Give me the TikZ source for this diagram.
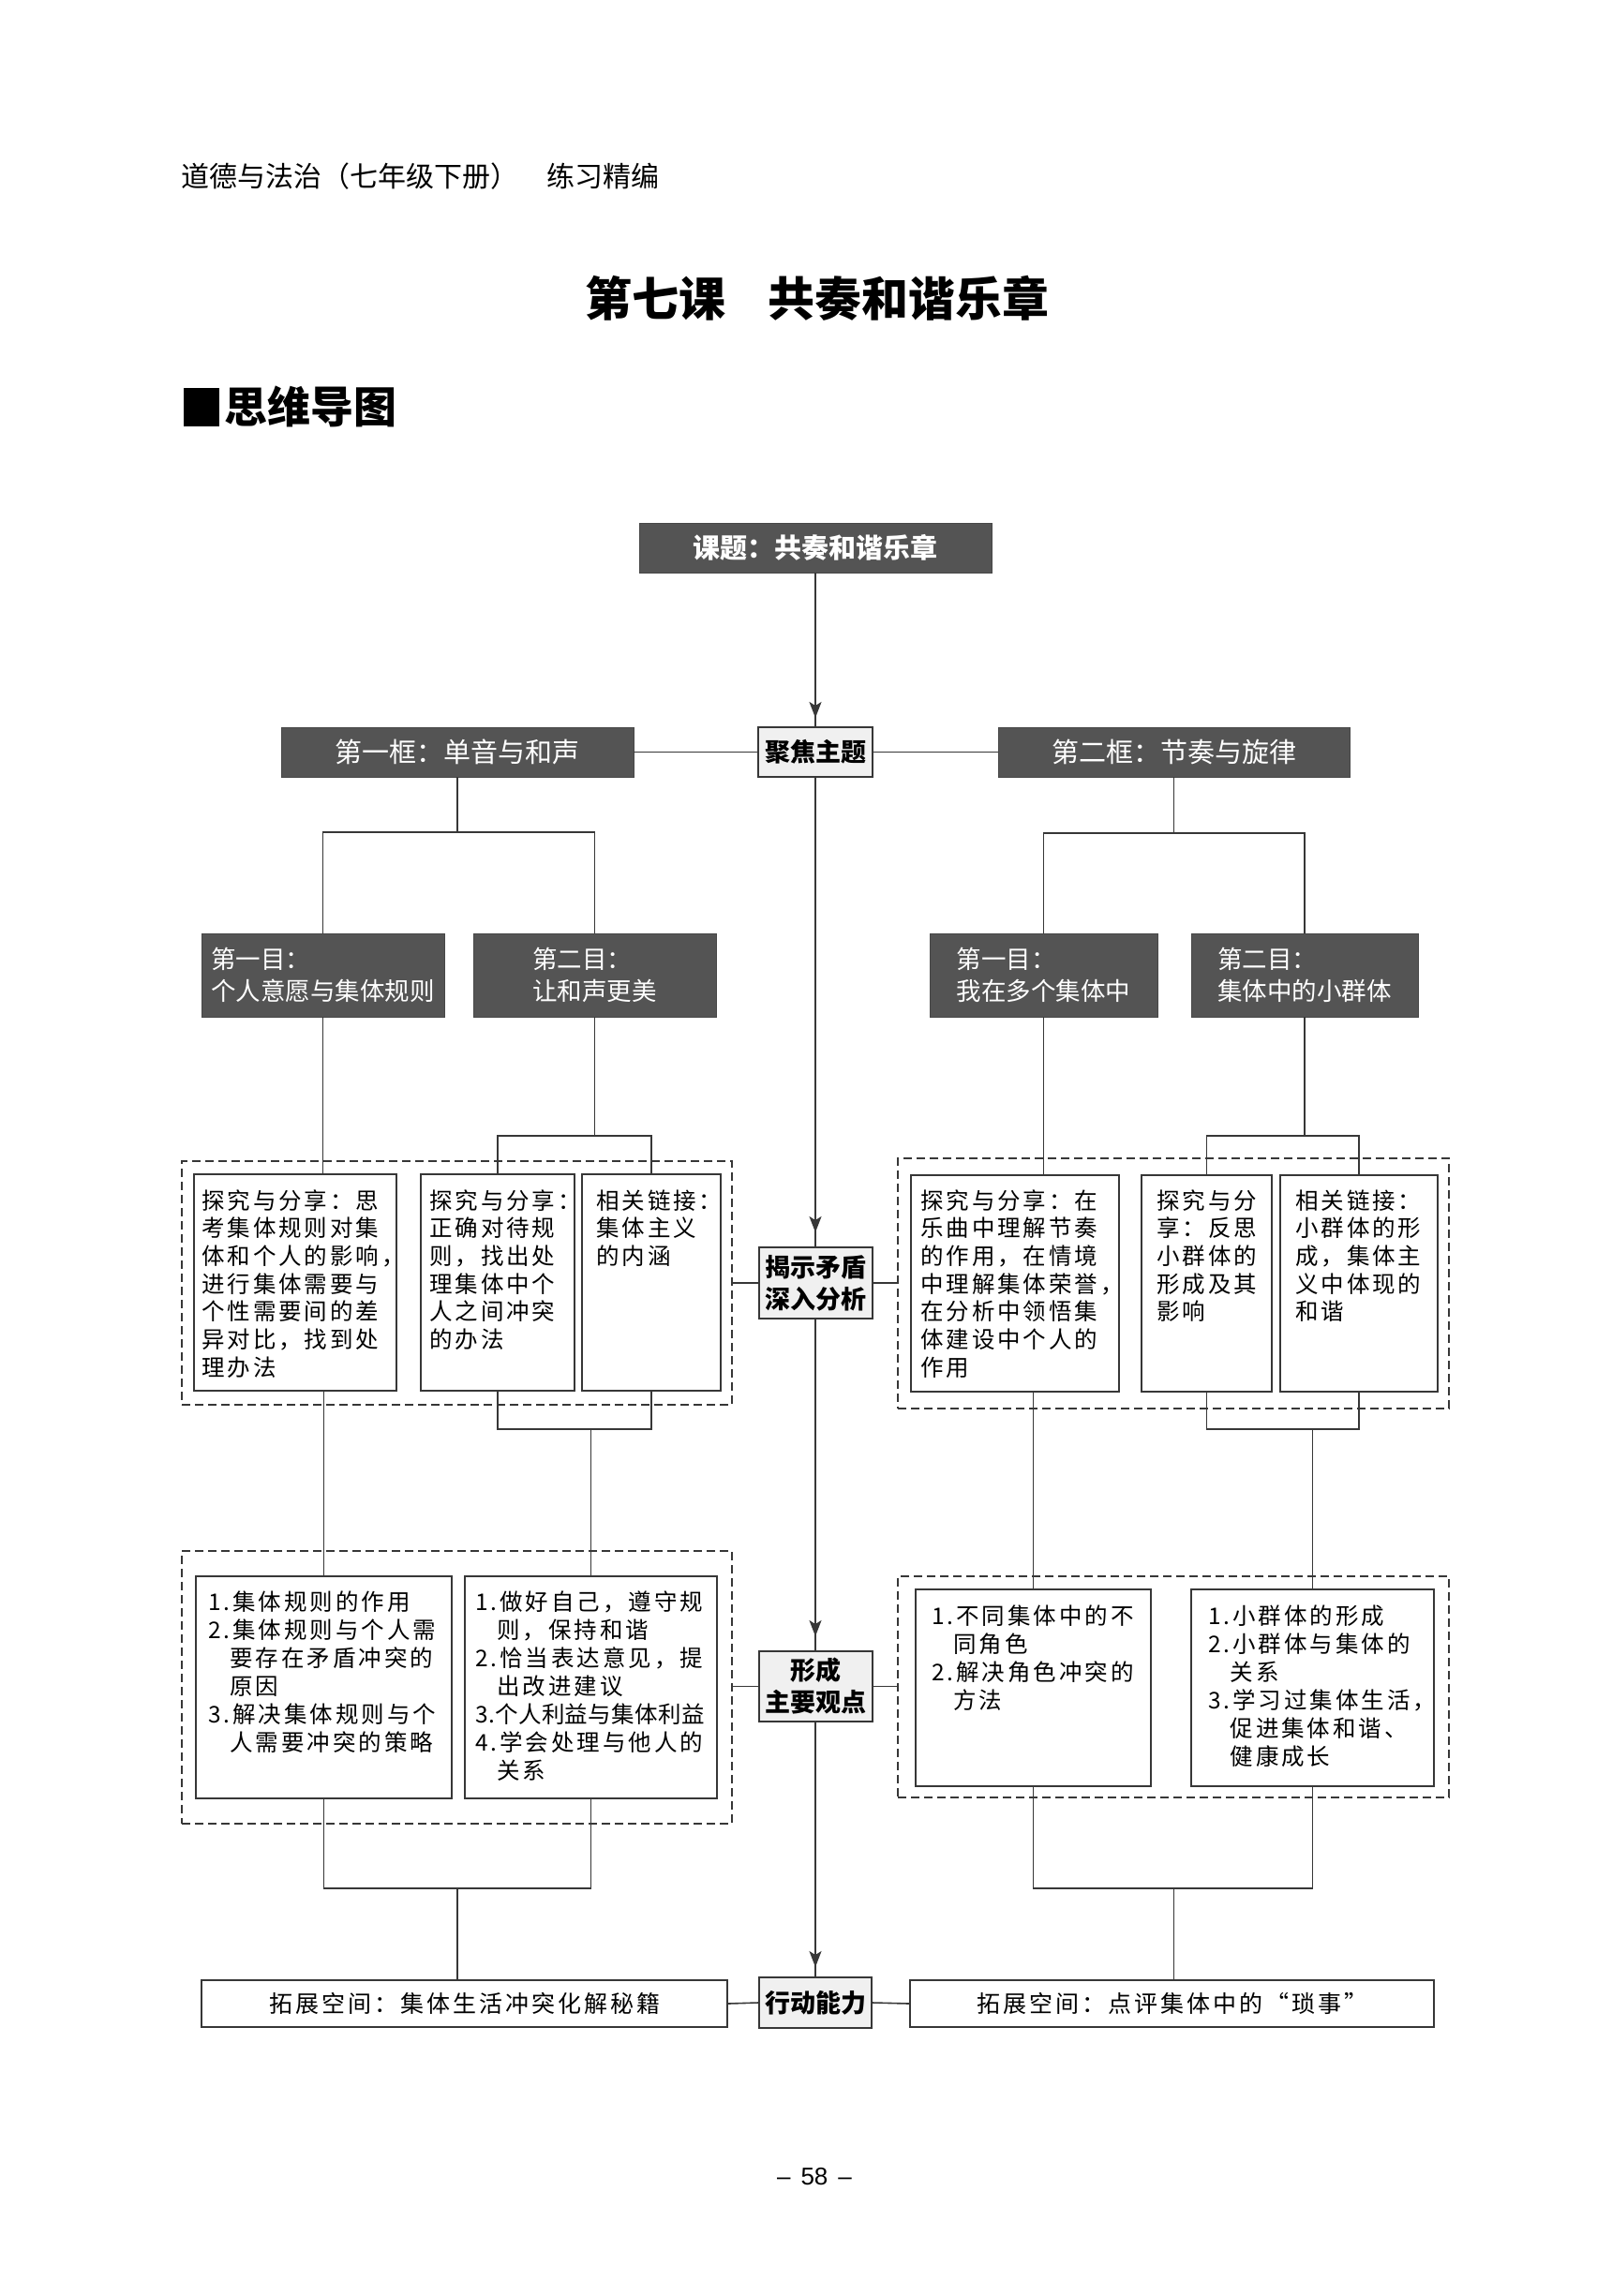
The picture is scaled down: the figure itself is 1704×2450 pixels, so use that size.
\documentclass[tikz,border=0pt]{standalone}
\usepackage{fontspec}
\setmainfont{Noto Sans CJK SC}
\newfontfamily\lsfont[LetterSpace=12]{Noto Sans CJK SC}
\newfontfamily\pgfont{Liberation Sans}
\usetikzlibrary{arrows.meta,calc}
\definecolor{darkfill}{RGB}{84,84,84}
\definecolor{lightfill}{RGB}{240,240,240}
\definecolor{ink}{RGB}{55,55,55}
\tikzset{
  conn/.style={draw=ink, line width=1.6pt},
  arr/.style={draw=ink, line width=1.6pt, -{Stealth[length=17pt,width=13pt,inset=4pt]}},
  darkbox/.style={rectangle, fill=darkfill, draw=darkfill!85!black, line width=0.8pt, text=white, inner sep=0pt, align=center},
  centerbox/.style={rectangle, fill=lightfill, draw=ink, line width=2pt, inner sep=0pt, align=center, font=\fontsize{27}{34}\selectfont\bfseries},
  cbox/.style={rectangle, draw=ink, line width=2pt, fill=white, inner sep=0pt},
  dashbox/.style={rectangle, draw=ink, line width=1.6pt, dash pattern=on 9pt off 5pt, inner sep=0pt},
  ctext/.style={inner sep=0pt, anchor=base west, align=left, text width=300pt, font=\lsfont\fontsize{24.5}{29.7}\selectfont},
  ctextb/.style={ctext, font=\lsfont\fontsize{24.5}{30}\selectfont},
  bottombox/.style={rectangle, draw=ink, line width=2pt, fill=white, inner sep=0pt, font=\lsfont\fontsize{25}{30}\selectfont},
}
\begin{document}
\begin{tikzpicture}[x=1pt,y=-1pt]
\useasboundingbox (0,0) rectangle (1704,2450);
\fill[white] (0,0) rectangle (1704,2450);

% header
\node[anchor=west, inner sep=0pt, font=\fontsize{30}{36}\selectfont] (hdr) at (193,188) {道德与法治（七年级下册）\hspace{30pt}练习精编};
\node[inner sep=0pt, font=\fontsize{50}{60}\selectfont\bfseries] (title) at (872,318) {第七课\hspace{0.9em}共奏和谐乐章};
\node[fill=black, minimum width=38pt, minimum height=41pt, inner sep=0pt] (sq) at (215,434) {};
\node[anchor=west, inner sep=0pt, font=\fontsize{46}{54}\selectfont\bfseries] (sec) at (239,434) {思维导图};

% dark title boxes
\node[darkbox, minimum width=376pt, minimum height=53pt, font=\fontsize{29}{34}\selectfont\bfseries] (top) at (870,584.5) {课题：共奏和谐乐章};
\node[darkbox, minimum width=376pt, minimum height=53pt, font=\fontsize{29}{34}\selectfont] (k1) at (488,802.5) {第一框：单音与和声};
\node[darkbox, minimum width=375pt, minimum height=53pt, font=\fontsize{29}{34}\selectfont] (k2) at (1252.5,802.5) {第二框：节奏与旋律};
\node[centerbox, minimum width=122pt, minimum height=53pt] (jj) at (870,802.5) {聚焦主题};

\node[darkbox, minimum width=259pt, minimum height=89pt, align=left, font=\fontsize{26.5}{34}\selectfont] (m1) at (344.5,1040.5) {第一目：\\个人意愿与集体规则};
\node[darkbox, minimum width=259pt, minimum height=89pt, align=left, font=\fontsize{26.5}{34}\selectfont] (m2) at (634.5,1040.5) {第二目：\\让和声更美};
\node[darkbox, minimum width=243pt, minimum height=89pt, align=left, font=\fontsize{26.5}{34}\selectfont] (m3) at (1113.5,1040.5) {第一目：\\我在多个集体中};
\node[darkbox, minimum width=242pt, minimum height=89pt, align=left, font=\fontsize{26.5}{34}\selectfont] (m4) at (1392,1040.5) {第二目：\\集体中的小群体};

% dashed containers
\node[dashbox, minimum width=587pt, minimum height=260pt] (d1) at (487.5,1369) {};
\node[dashbox, minimum width=588pt, minimum height=267pt] (d2) at (1252,1369.5) {};
\node[dashbox, minimum width=587pt, minimum height=291pt] (d3) at (487.5,1800.5) {};
\node[dashbox, minimum width=588pt, minimum height=236pt] (d4) at (1252,1800) {};

% center column boxes
\node[centerbox, minimum width=121pt, minimum height=76pt] (js) at (870,1369) {揭示矛盾\\深入分析};
\node[centerbox, minimum width=121pt, minimum height=75pt] (xc) at (870,1799.5) {形成\\主要观点};
\node[centerbox, minimum width=120pt, minimum height=54pt] (xd) at (870,2137) {行动能力};

% row 1 content boxes
\node[cbox, minimum width=216pt, minimum height=231pt] (r1a) at (315,1368.5) {};
\node[cbox, minimum width=164pt, minimum height=231pt] (r1b) at (531,1368.5) {};
\node[cbox, minimum width=148pt, minimum height=231pt] (r1c) at (695,1368.5) {};
\node[cbox, minimum width=222pt, minimum height=231pt] (r1d) at (1083,1369.5) {};
\node[cbox, minimum width=139pt, minimum height=231pt] (r1e) at (1287.5,1369.5) {};
\node[cbox, minimum width=168pt, minimum height=231pt] (r1f) at (1450,1369.5) {};

\node[ctext] (t1a) at ($(r1a.north west)+(9,38)$) {探究与分享：思\\考集体规则对集\\体和个人的影响，\\进行集体需要与\\个性需要间的差\\异对比，找到处\\理办法};
\node[ctext] (t1b) at ($(r1b.north west)+(10,38)$) {探究与分享：\\正确对待规\\则，找出处\\理集体中个\\人之间冲突\\的办法};
\node[ctext] (t1c) at ($(r1c.north west)+(16,38)$) {相关链接：\\集体主义\\的内涵};
\node[ctext] (t1d) at ($(r1d.north west)+(11,37)$) {探究与分享：在\\乐曲中理解节奏\\的作用，在情境\\中理解集体荣誉，\\在分析中领悟集\\体建设中个人的\\作用};
\node[ctext] (t1e) at ($(r1e.north west)+(17,37)$) {探究与分\\享：反思\\小群体的\\形成及其\\影响};
\node[ctext] (t1f) at ($(r1f.north west)+(17,37)$) {相关链接：\\小群体的形\\成，集体主\\义中体现的\\和谐};

% row 2 content boxes
\node[cbox, minimum width=273pt, minimum height=237pt] (r2a) at (345.5,1800.5) {};
\node[cbox, minimum width=269pt, minimum height=237pt] (r2b) at (630.5,1800.5) {};
\node[cbox, minimum width=251pt, minimum height=210pt] (r2c) at (1102.5,1801) {};
\node[cbox, minimum width=259pt, minimum height=210pt] (r2d) at (1400.5,1801) {};

\node[ctextb] (t2a) at ($(r2a.north west)+(14,37.5)$) {1.集体规则的作用\\2.集体规则与个人需\\\phantom{2.}要存在矛盾冲突的\\\phantom{2.}原因\\3.解决集体规则与个\\\phantom{3.}人需要冲突的策略};
\node[ctextb] (t2b) at ($(r2b.north west)+(12,37.5)$) {1.做好自己，遵守规\\\phantom{1.}则，保持和谐\\2.恰当表达意见，提\\\phantom{2.}出改进建议\\{\addfontfeature{LetterSpace=1.5}3.个人利益与集体利益}\\4.学会处理与他人的\\\phantom{4.}关系};
\node[ctextb] (t2c) at ($(r2c.north west)+(18,38)$) {1.不同集体中的不\\\phantom{1.}同角色\\2.解决角色冲突的\\\phantom{2.}方法};
\node[ctextb] (t2d) at ($(r2d.north west)+(19,38)$) {1.小群体的形成\\2.小群体与集体的\\\phantom{2.}关系\\3.学习过集体生活，\\\phantom{3.}促进集体和谐、\\\phantom{3.}健康成长};

% bottom boxes
\node[bottombox, minimum width=561pt, minimum height=50pt] (bl) at (495.5,2138) {拓展空间：集体生活冲突化解秘籍};
\node[bottombox, minimum width=559pt, minimum height=50pt] (br) at (1250.5,2138) {拓展空间：点评集体中的“琐事”};

% page number
\node[inner sep=0pt, font=\pgfont\fontsize{26}{30}\selectfont] (pg) at (869,2323) {–\hspace{11pt}58\hspace{11pt}–};

% ---- connectors: center column
\draw[conn] (top.south) -- (jj.north);
\draw[arr, shorten >=9pt] (top.south) -- (jj.north);
\draw[conn] (jj.south) -- (js.north);
\draw[arr, shorten >=15pt] (jj.south) -- (js.north);
\draw[conn] (js.south) -- (xc.north);
\draw[arr, shorten >=15pt] (js.south) -- (xc.north);
\draw[conn] (xc.south) -- (xd.north);
\draw[arr, shorten >=10pt] (xc.south) -- (xd.north);

\draw[conn] (jj.west) -- (k1.east);
\draw[conn] (jj.east) -- (k2.west);
\draw[conn] (js.west) -- (js.west -| d1.east);
\draw[conn] (js.east) -- (js.east -| d2.west);
\draw[conn] (xc.west) -- (xc.west -| d3.east);
\draw[conn] (xc.east) -- (xc.east -| d4.west);
\draw[conn] (xd.west) -- (bl.east);
\draw[conn] (xd.east) -- (br.west);

% ---- left tree
\coordinate (b1) at (488,888);
\draw[conn] (k1.south) -- (b1);
\draw[conn] (m1.north) |- (b1) -| (m2.north);
\draw[conn] (m1.south) -- (m1.south |- r1a.north);
\coordinate (b2) at (634.5,1212);
\draw[conn] (m2.south) -- (b2);
\draw[conn] (r1b.north) |- (b2) -| (r1c.north);
\draw[conn] (r2a.north) -- (r2a.north |- r1a.south);
\coordinate (b3) at (630.5,1525);
\draw[conn] (r1b.south) |- (b3) -| (r1c.south);
\draw[conn] (b3) -- (r2b.north);
\coordinate (b4) at (488,2015);
\draw[conn] (r2a.south) |- (b4) -| (r2b.south);
\draw[conn] (b4) -- (b4 |- bl.north);

% ---- right tree
\coordinate (b5) at (1252.5,889);
\draw[conn] (k2.south) -- (b5);
\draw[conn] (m3.north) |- (b5) -| (m4.north);
\draw[conn] (m3.south) -- (m3.south |- r1d.north);
\coordinate (b6) at (1392,1212);
\draw[conn] (m4.south) -- (b6);
\draw[conn] (r1e.north) |- (b6) -| (r1f.north);
\draw[conn] (r2c.north) -- (r2c.north |- r1d.south);
\coordinate (b7) at (1400.5,1525);
\draw[conn] (r1e.south) |- (b7) -| (r1f.south);
\draw[conn] (b7) -- (r2d.north);
\coordinate (b8) at (1252.5,2015);
\draw[conn] (r2c.south) |- (b8) -| (r2d.south);
\draw[conn] (b8) -- (b8 |- br.north);
\end{tikzpicture}
\end{document}
